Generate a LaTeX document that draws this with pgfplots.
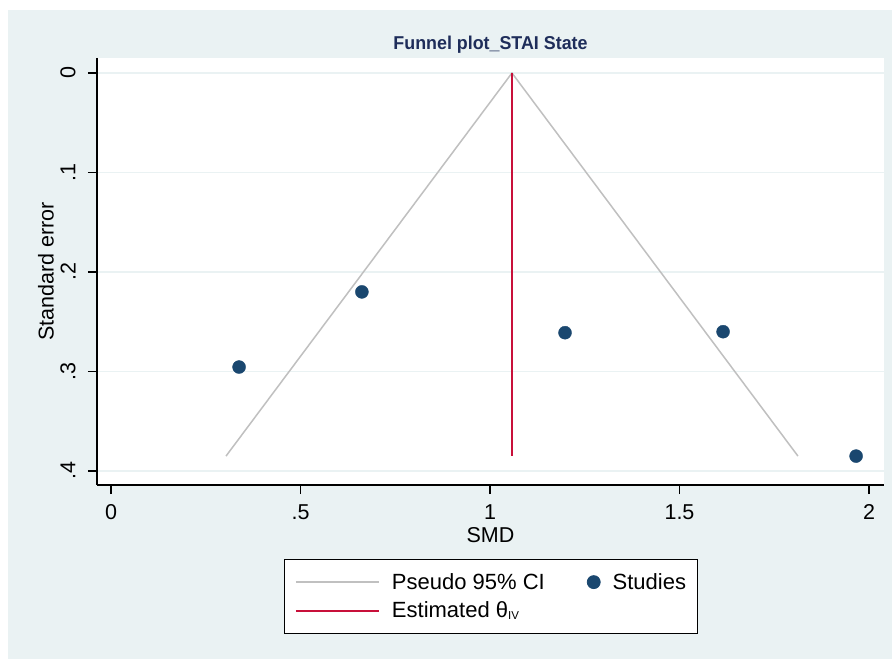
\documentclass[border=0pt]{standalone}
\usepackage{fontspec}
\setmainfont{Liberation Sans}
\usepackage{pgfplots}
\pgfplotsset{compat=1.18}
\definecolor{bgc}{RGB}{234,242,243}
\definecolor{navy}{RGB}{26,71,111}
\definecolor{crim}{RGB}{200,16,58}
\definecolor{ttl}{RGB}{30,45,90}
\definecolor{cigray}{RGB}{192,192,192}
\begin{document}
\begin{tikzpicture}[x=1pt,y=1pt]
\path[use as bounding box] (0,0) rectangle (892,659);
\fill[white] (0,0) rectangle (892,659);
\fill[bgc] (8,0) rectangle (892,649);
\node[font=\fontsize{18.6}{20}\selectfont\bfseries, text=ttl, xscale=0.96] at (490.5,614) {Funnel plot\_STAI State};
\begin{axis}[
  at={(97pt,174pt)}, anchor=south west,
  scale only axis, width=787pt, height=427pt,
  xmin=-0.0369, xmax=2.0396,
  ymin=-0.01508, ymax=0.41407, y dir=reverse,
  axis background/.style={fill=white},
  axis x line*=bottom, axis y line*=left,
  axis line style={line width=1.2pt, black},
  xtick={0,0.5,1,1.5,2}, xticklabels={0,.5,1,1.5,2},
  ytick={0,0.1,0.2,0.3,0.4}, yticklabels={0,.1,.2,.3,.4},
  tick align=outside, major tick length=9pt,
  tick style={line width=1.2pt, black},
  ymajorgrids, grid style={bgc, line width=1.5pt},
  ticklabel style={font=\fontsize{21.5}{24}\selectfont},
  /pgf/number format/assume math mode=true,
  yticklabel style={rotate=90, anchor=center, inner sep=0pt},
  yticklabel shift=20pt,
  xticklabel shift=7pt,
  xlabel={SMD}, ylabel={Standard error},
  every axis x label/.style={at={(axis description cs:0.5,-0.1171)}, anchor=center, font=\fontsize{21.5}{24}\selectfont},
  every axis y label/.style={at={(axis description cs:-0.0648,0.5)}, rotate=90, anchor=center, font=\fontsize{21.5}{24}\selectfont},
  legend columns=2,
  legend cell align=left,
  legend image code/.code={\draw[#1] (0pt,0pt) -- (83pt,0pt);},
  legend style={at={(axis description cs:0.5,-0.1733)}, anchor=north,
    draw=black, line width=0.8pt, fill=white,
    font=\fontsize{22}{24}\selectfont,
    inner xsep=11pt, inner ysep=14pt,
    nodes={inner sep=0pt},
    row sep=11pt,
    /tikz/every odd column/.style={column sep=12pt},
    /tikz/every even column/.style={column sep=42pt}},
]
\addplot[cigray, line width=1.5pt] coordinates {(0.3035,0.385) (1.058,0) (1.8125,0.385)};
\addlegendentry{Pseudo 95\% CI}
\addplot[only marks, mark=*, mark size=6.5pt, navy, mark options={fill=navy, draw=navy},
  legend image code/.code={\fill[navy] (6.5pt,0pt) circle (6.5pt);}] coordinates {
  (0.338,0.2955) (0.662,0.220) (1.198,0.261) (1.615,0.260) (1.966,0.385)};
\addlegendentry{Studies}
\addplot[crim, line width=2pt] coordinates {(1.058,0) (1.058,0.385)};
\addlegendentry{Estimated θ\raisebox{-2pt}{\fontsize{11.5}{12}\selectfont IV}}
\end{axis}
\end{tikzpicture}
\end{document}
